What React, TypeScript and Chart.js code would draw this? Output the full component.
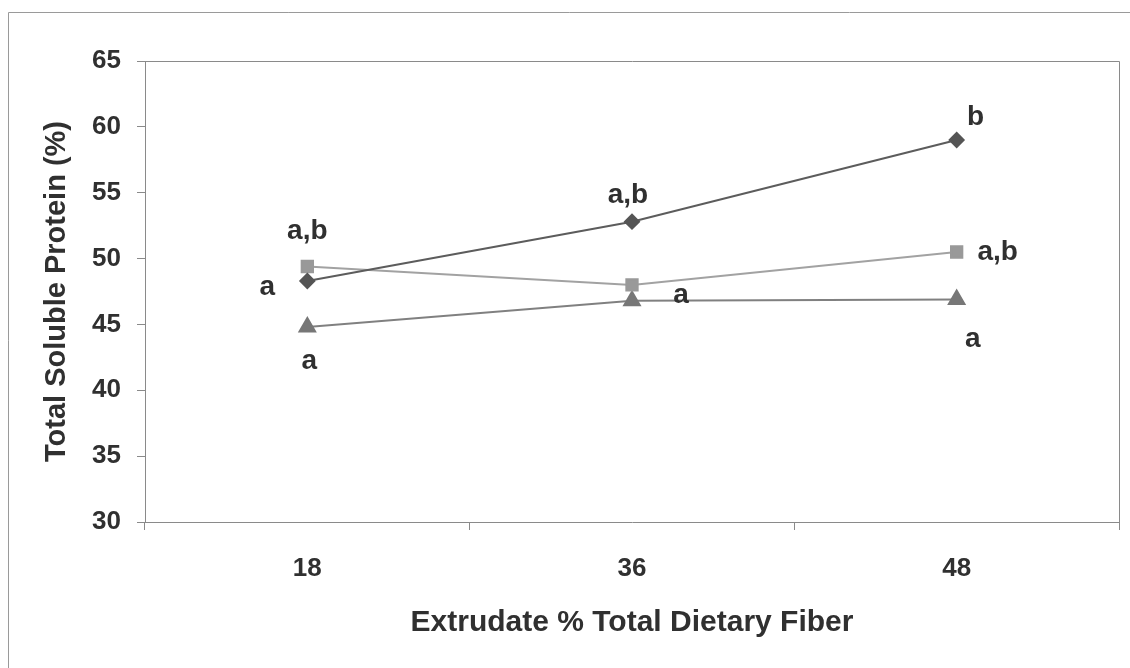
import React, { useEffect, useRef } from 'react';
import { Chart, registerables } from 'chart.js';

Chart.register(...registerables);

// ---- data ----
const categories = ['18', '36', '48'];
const diamondValues = [48.3, 52.8, 59.0];
const squareValues = [49.4, 48.0, 50.5];
const triangleValues = [44.8, 46.8, 46.9];
const yTicks = [30, 35, 40, 45, 50, 55, 60, 65];

const diamondLetters = ['a', 'a,b', 'b'];
const squareLetters = ['a,b', 'a', 'a,b'];
const triangleLetters = ['a', '', 'a'];

// label placement offsets in px relative to each point (style, not data)
const diamondOffsets = [[-40, 6], [-4, -26], [19, -23]];
const squareOffsets = [[0, -35], [49, 10], [41, 0]];
const triangleOffsets = [[2, 34], [0, 0], [16, 40]];

const xTitle = 'Extrudate % Total Dietary Fiber';
const yTitle = 'Total Soluble Protein (%)';

const FONT = '"Liberation Sans", Arial, Helvetica, sans-serif';
const TEXT = '#303030';
const AXIS = '#8a8a8a';

const lettersPlugin = {
  id: 'letters',
  afterDatasetsDraw(chart: any) {
    const ctx = chart.ctx;
    ctx.save();
    ctx.font = `bold 28px ${FONT}`;
    ctx.fillStyle = TEXT;
    ctx.textAlign = 'center';
    ctx.textBaseline = 'middle';
    chart.data.datasets.forEach((ds: any, i: number) => {
      const meta = chart.getDatasetMeta(i);
      meta.data.forEach((pt: any, j: number) => {
        const txt = ds.letters?.[j];
        if (!txt) return;
        const [dx, dy] = ds.letterOffsets[j];
        ctx.fillText(txt, pt.x + dx, pt.y + dy);
      });
    });
    ctx.restore();
  },
};

const framePlugin = {
  id: 'frames',
  beforeDatasetsDraw(chart: any) {
    const { ctx, chartArea, width, height } = chart;
    ctx.save();
    ctx.strokeStyle = AXIS;
    ctx.lineWidth = 1;
    ctx.beginPath();
    ctx.moveTo(Math.round(chartArea.left) + 0.5, Math.round(chartArea.top) + 0.5);
    ctx.lineTo(Math.round(chartArea.right) + 0.5, Math.round(chartArea.top) + 0.5);
    ctx.lineTo(Math.round(chartArea.right) + 0.5, Math.round(chartArea.bottom) + 0.5);
    ctx.stroke();
    ctx.strokeStyle = '#9a9a9a';
    ctx.beginPath();
    ctx.moveTo(8.5, height);
    ctx.lineTo(8.5, 12.5);
    ctx.lineTo(width, 12.5);
    ctx.stroke();
    ctx.restore();
  },
};

export default function App() {
  const ref = useRef<HTMLCanvasElement | null>(null);

  useEffect(() => {
    if (!ref.current) return;
    const chart = new Chart(ref.current, {
      type: 'line',
      data: {
        labels: categories,
        datasets: [
          {
            data: diamondValues,
            borderColor: '#5c5c5c',
            backgroundColor: '#555555',
            pointBackgroundColor: '#555555',
            pointBorderColor: '#555555',
            pointStyle: 'rectRot',
            pointRadius: 7,
            borderWidth: 2,
            tension: 0,
            letters: diamondLetters,
            letterOffsets: diamondOffsets,
          } as any,
          {
            data: squareValues,
            borderColor: '#a2a2a2',
            backgroundColor: '#999999',
            pointBackgroundColor: '#999999',
            pointBorderColor: '#999999',
            pointStyle: 'rect',
            pointRadius: 8,
            borderWidth: 2,
            tension: 0,
            letters: squareLetters,
            letterOffsets: squareOffsets,
          } as any,
          {
            data: triangleValues,
            borderColor: '#808080',
            backgroundColor: '#777777',
            pointBackgroundColor: '#777777',
            pointBorderColor: '#777777',
            pointStyle: 'triangle',
            pointRadius: 9,
            borderWidth: 2,
            tension: 0,
            letters: triangleLetters,
            letterOffsets: triangleOffsets,
          } as any,
        ],
      },
      options: {
        animation: false,
        responsive: false,
        maintainAspectRatio: false,
        layout: { padding: { left: 0, top: 61, right: 9, bottom: 0 } },
        plugins: {
          legend: { display: false },
          tooltip: { enabled: false },
        },
        scales: {
          x: {
            type: 'category',
            offset: true,
            grid: { offset: true, drawOnChartArea: false, tickLength: 8, color: AXIS },
            border: { color: AXIS, width: 1 },
            ticks: { font: { family: FONT, size: 26, weight: 'bold' }, color: TEXT, padding: 23 },
            title: {
              display: true,
              text: xTitle,
              color: TEXT,
              font: { family: FONT, size: 30, weight: 'bold' },
              padding: { top: 0, bottom: 27 },
            },
            afterFit(scale: any) {
              scale.height = 146;
            },
          },
          y: {
            min: 30,
            max: 65,
            afterBuildTicks(scale: any) {
              scale.ticks = yTicks.map((v) => ({ value: v }));
            },
            grid: { drawOnChartArea: false, tickLength: 8, color: AXIS },
            border: { color: AXIS, width: 1 },
            ticks: { font: { family: FONT, size: 26, weight: 'bold' }, color: TEXT, padding: 16 },
            title: {
              display: true,
              text: yTitle,
              color: TEXT,
              font: { family: FONT, size: 29, weight: 'bold' },
              padding: { top: 40, bottom: 0 },
            },
            afterFit(scale: any) {
              scale.width = 145;
            },
          },
        },
      } as any,
      plugins: [framePlugin, lettersPlugin],
    });
    return () => chart.destroy();
  }, []);

  return (
    <div style={{ position: 'absolute', left: 0, top: 0, width: 1130, height: 668, background: '#fff' }}>
      <canvas ref={ref} width={1130} height={668} style={{ display: 'block', width: 1130, height: 668 }} />
    </div>
  );
}
